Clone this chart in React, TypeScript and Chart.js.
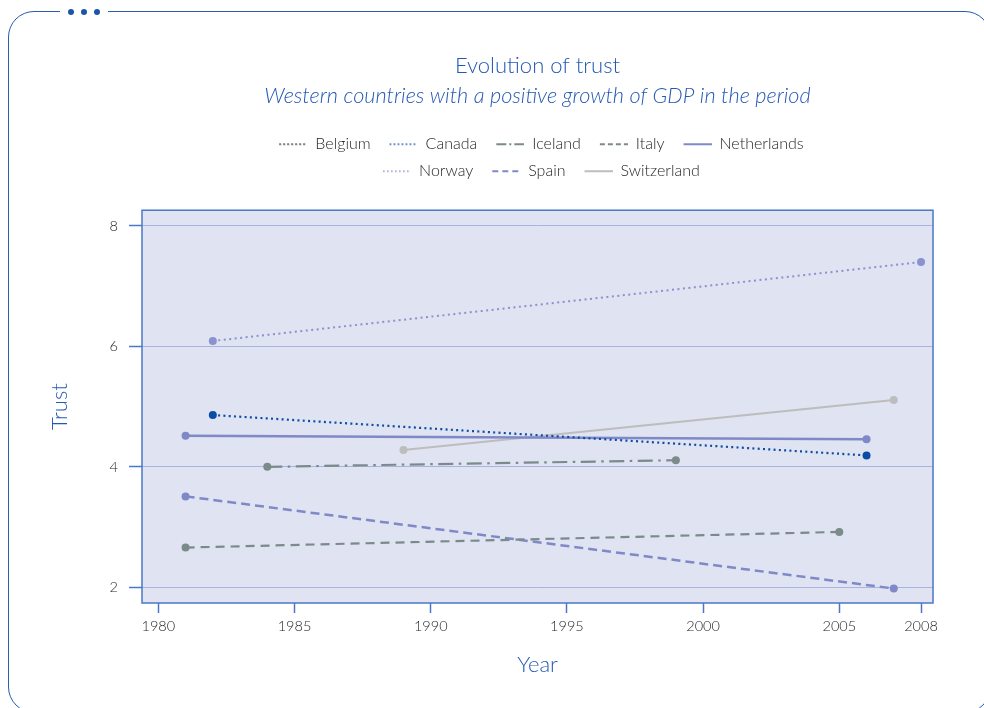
import React, { useEffect, useRef } from 'react';
import { Chart, registerables } from 'chart.js';

Chart.register(...registerables);

// ---------- data ----------
const TITLE = 'Evolution of trust';
const SUBTITLE = 'Western countries with a positive growth of GDP in the period';
const X_TITLE = 'Year';
const Y_TITLE = 'Trust';

const SERIES_NAMES = ['Belgium', 'Canada', 'Iceland', 'Italy', 'Netherlands', 'Norway', 'Spain', 'Switzerland'];

const belgiumYears: number[] = [];
const belgiumTrust: number[] = [];
const canadaYears = [1982, 2006];
const canadaTrust = [4.86, 4.19];
const icelandYears = [1984, 1999];
const icelandTrust = [4.0, 4.11];
const italyYears = [1981, 2005];
const italyTrust = [2.66, 2.92];
const netherlandsYears = [1981, 2006];
const netherlandsTrust = [4.515, 4.46];
const norwayYears = [1982, 2008];
const norwayTrust = [6.09, 7.4];
const spainYears = [1981, 2007];
const spainTrust = [3.51, 1.98];
const switzerlandYears = [1989, 2007];
const switzerlandTrust = [4.28, 5.11];

const SERIES_YEARS = [belgiumYears, canadaYears, icelandYears, italyYears, netherlandsYears, norwayYears, spainYears, switzerlandYears];
const SERIES_TRUST = [belgiumTrust, canadaTrust, icelandTrust, italyTrust, netherlandsTrust, norwayTrust, spainTrust, switzerlandTrust];

const X_TICKS = [1980, 1985, 1990, 1995, 2000, 2005, 2008];
const Y_TICKS = [2, 4, 6, 8];
const X_MIN = 1979.4;
const X_MAX = 2008.44;
const Y_MIN = 1.74;
const Y_MAX = 8.26;

// ---------- styles ----------
const FONT = 'Lato, "Open Sans", "Noto Sans", sans-serif';
const BLUE = '#2459b3';
const TEXT = '#262626';
const WEIGHT = 300;

type Style = { color: string; dash: number[]; width: number; legendDash: number[]; legendWidth: number };
const STYLES: Style[] = [
  { color: '#111111', dash: [2, 3.5], width: 2, legendDash: [1.5, 2.5], legendWidth: 1.5 }, // Belgium
  { color: '#0b4ca6', dash: [2, 3.3], width: 2.2, legendDash: [1.5, 2.5], legendWidth: 1.5 }, // Canada
  { color: '#7b8a8a', dash: [15, 5.5, 2.5, 5.5], width: 2.2, legendDash: [10, 3, 2, 3], legendWidth: 2 }, // Iceland
  { color: '#7b8a8a', dash: [9, 6], width: 2.2, legendDash: [5, 3], legendWidth: 2 }, // Italy
  { color: '#7f89c8', dash: [], width: 2.5, legendDash: [], legendWidth: 2 }, // Netherlands
  { color: '#8a92cf', dash: [2, 3.5], width: 2, legendDash: [1.5, 2.5], legendWidth: 1.5 }, // Norway
  { color: '#7f89c8', dash: [9, 5], width: 2.5, legendDash: [6, 4], legendWidth: 2 }, // Spain
  { color: '#bdbdbd', dash: [], width: 2, legendDash: [], legendWidth: 2 }, // Switzerland
];

const LEGEND_WIDTH = 610;
const LEGEND_GAP = 21;
const SAMPLE_W = 36;
const SAMPLE_GAP = 8;

function makeSample(s: Style): HTMLCanvasElement {
  const c = document.createElement('canvas');
  c.width = SAMPLE_W;
  c.height = 6;
  const ctx = c.getContext('2d')!;
  ctx.strokeStyle = s.color;
  ctx.lineWidth = s.legendWidth;
  ctx.setLineDash(s.legendDash);
  ctx.beginPath();
  ctx.moveTo(SAMPLE_GAP, 3);
  ctx.lineTo(SAMPLE_W, 3);
  ctx.stroke();
  return c;
}

const legendWrapPlugin = {
  id: 'legendWrap',
  beforeLayout(chart: any) {
    const lg = chart.legend;
    if (lg && !lg.__wrapped) {
      const orig = lg.update;
      lg.update = function (w: number, h: number, m: any) {
        orig.call(this, LEGEND_WIDTH, h, m);
        this.height += LEGEND_GAP;
      };
      lg.__wrapped = true;
    }
  },
  afterLayout(chart: any) {
    const lg = chart.legend;
    if (!lg) return;
    const cx = (chart.chartArea.left + chart.chartArea.right) / 2;
    lg.left = cx - LEGEND_WIDTH / 2;
    lg.right = cx + LEGEND_WIDTH / 2;
    lg.width = LEGEND_WIDTH;
  },
};

const plotAreaPlugin = {
  id: 'plotArea',
  beforeDraw(chart: any) {
    const { ctx, chartArea: a } = chart;
    ctx.save();
    ctx.fillStyle = '#dfe3f2';
    ctx.fillRect(a.left, a.top, a.right - a.left, a.bottom - a.top);
    ctx.restore();
  },
  beforeDatasetsDraw(chart: any) {
    const { ctx, chartArea: a } = chart;
    ctx.save();
    ctx.strokeStyle = '#4a78c8';
    ctx.lineWidth = 1.5;
    ctx.strokeRect(a.left, a.top, a.right - a.left, a.bottom - a.top);
    ctx.restore();
  },
};

export default function App() {
  const ref = useRef<HTMLCanvasElement | null>(null);

  useEffect(() => {
    if (!ref.current) return;
    const samples = STYLES.map(makeSample);
    const datasets = SERIES_NAMES.map((name, i) => {
      const s = STYLES[i];
      return {
        label: name,
        data: SERIES_YEARS[i].map((x, j) => ({ x, y: SERIES_TRUST[i][j] })),
        borderColor: s.color,
        backgroundColor: s.color,
        borderWidth: s.width,
        borderDash: s.dash,
        pointRadius: 4,
        pointBorderWidth: 0,
        pointBackgroundColor: s.color,
        tension: 0,
        fill: false,
      };
    });

    const chart = new Chart(ref.current, {
      type: 'line',
      data: { datasets } as any,
      plugins: [legendWrapPlugin as any, plotAreaPlugin as any],
      options: {
        responsive: false,
        animation: false,
        devicePixelRatio: 1,
        events: [],
        layout: { padding: { left: 0, right: 51, top: 0, bottom: 0 } },
        plugins: {
          tooltip: { enabled: false },
          title: {
            display: true,
            text: TITLE,
            fullSize: false,
            color: BLUE,
            font: { family: FONT, size: 22, weight: WEIGHT },
            padding: { top: 53, bottom: 0 },
          },
          subtitle: {
            display: true,
            text: SUBTITLE,
            fullSize: false,
            color: BLUE,
            font: { family: FONT, size: 21.7, style: 'italic', weight: WEIGHT },
            padding: { top: 3.7, bottom: 16.1 },
          },
          legend: {
            display: true,
            position: 'top',
            fullSize: false,
            labels: {
              usePointStyle: true,
              pointStyleWidth: SAMPLE_W,
              padding: 11,
              color: TEXT,
              font: { family: FONT, size: 16, weight: WEIGHT },
              generateLabels: (ch: any) =>
                ch.data.datasets.map((ds: any, i: number) => ({
                  text: ds.label,
                  pointStyle: samples[i],
                  fillStyle: 'rgba(0,0,0,0)',
                  strokeStyle: 'rgba(0,0,0,0)',
                  lineWidth: 0,
                  hidden: false,
                  datasetIndex: i,
                  fontColor: TEXT,
                })),
            },
          },
        },
        scales: {
          x: {
            type: 'linear',
            min: X_MIN,
            max: X_MAX,
            afterBuildTicks: (scale: any) => {
              scale.ticks = X_TICKS.map((v) => ({ value: v }));
            },
            afterFit: (scale: any) => {
              scale.height = 105;
            },
            border: { display: false },
            grid: {
              display: true,
              drawOnChartArea: false,
              drawTicks: true,
              tickLength: 10,
              tickColor: '#4a78c8',
              tickWidth: 1.5,
            },
            ticks: {
              color: TEXT,
              padding: 5,
              font: { family: FONT, size: 14.5, weight: WEIGHT },
              maxRotation: 0,
              autoSkip: false,
              callback: (v: any) => String(v),
            },
            title: {
              display: true,
              text: X_TITLE,
              color: BLUE,
              font: { family: FONT, size: 22, weight: WEIGHT },
              padding: { top: 0, bottom: 29.8 },
            },
          },
          y: {
            type: 'linear',
            min: Y_MIN,
            max: Y_MAX,
            afterBuildTicks: (scale: any) => {
              scale.ticks = Y_TICKS.map((v) => ({ value: v }));
            },
            afterFit: (scale: any) => {
              scale.width = 142;
            },
            border: { display: false },
            grid: {
              display: true,
              drawOnChartArea: true,
              drawTicks: true,
              tickLength: 13,
              color: '#aab3e0',
              lineWidth: 1,
              tickColor: '#4a78c8',
              tickWidth: 1.5,
            },
            ticks: {
              color: TEXT,
              padding: 11,
              font: { family: FONT, size: 14.5, weight: WEIGHT },
              autoSkip: false,
              callback: (v: any) => String(v),
            },
            title: {
              display: true,
              text: Y_TITLE,
              color: BLUE,
              font: { family: FONT, size: 22, weight: WEIGHT },
              padding: { top: 46.8, bottom: 0 },
            },
          },
        },
      } as any,
    });
    return () => chart.destroy();
  }, []);

  return (
    <div style={{ position: 'fixed', left: 0, top: 0, width: 984, height: 708, overflow: 'hidden', background: '#fff' }}>
      <div
        style={{
          position: 'absolute',
          left: 8,
          top: 11,
          width: 983,
          height: 702,
          border: '1.5px solid #2a5caf',
          borderRadius: 26,
          boxSizing: 'border-box',
        }}
      />
      <div
        style={{
          position: 'absolute',
          left: 60,
          top: 6,
          width: 48,
          height: 12,
          background: '#fff',
          display: 'flex',
          alignItems: 'center',
          justifyContent: 'center',
          gap: 7,
        }}
      >
        {[0, 1, 2].map((k) => (
          <span key={k} style={{ width: 6, height: 6, borderRadius: 3, background: '#1a55a8', display: 'block' }} />
        ))}
      </div>
      <canvas ref={ref} width={984} height={708} style={{ position: 'absolute', left: 0, top: 0, display: 'block' }} />
    </div>
  );
}
